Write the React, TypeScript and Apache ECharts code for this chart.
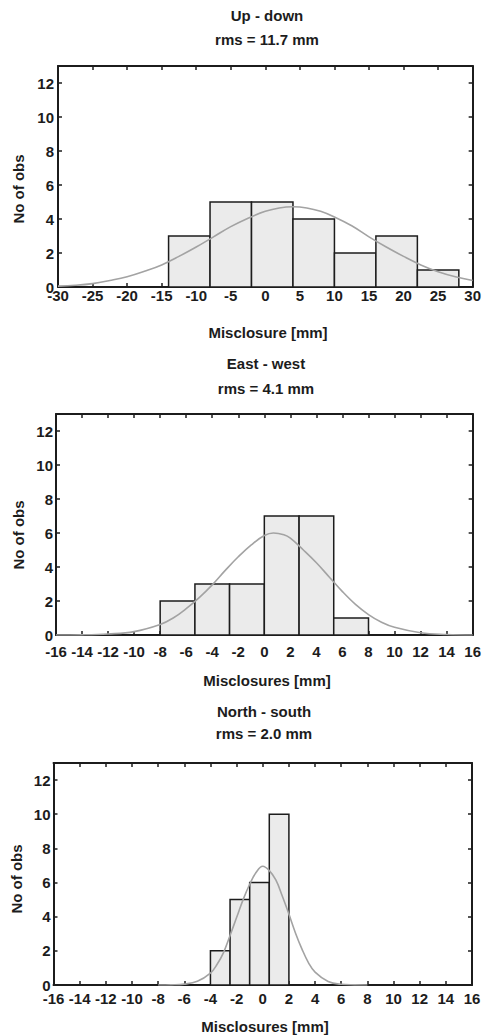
import React, { useEffect, useRef } from "react";
import * as echarts from "echarts";

// ---- Data ----
const titles = ["Up - down", "East - west", "North - south"];
const rmsLabels = ["rms = 11.7 mm", "rms = 4.1 mm", "rms = 2.0 mm"];
const xNames = ["Misclosure [mm]", "Misclosures [mm]", "Misclosures [mm]"];
const yName = "No of obs";

// Up - down histogram
const udEdges = [-14, -8, -2, 4, 10, 16, 22, 28];
const udCounts = [3, 5, 5, 4, 2, 3, 1];
const udCurveX = [-30, -27.5, -25, -22.5, -20, -17.5, -15, -12.5, -10, -7.5, -5, -2.5, 0, 2, 4, 6, 8, 10, 12.5, 15, 17.5, 20, 22.5, 25, 27.5, 30];
const udCurveY = [0.05, 0.1, 0.2, 0.38, 0.6, 0.92, 1.3, 1.8, 2.35, 2.95, 3.55, 4.05, 4.45, 4.65, 4.72, 4.65, 4.45, 4.12, 3.6, 2.95, 2.35, 1.8, 1.3, 0.9, 0.6, 0.38];

// East - west histogram
const ewEdges = [-8, -5.33, -2.67, 0, 2.67, 5.33, 8];
const ewCounts = [2, 3, 3, 7, 7, 1];
const ewCurveX = [-16, -14, -12, -10, -8, -7, -6, -5, -4, -3, -2, -1, 0, 0.7, 1.5, 2, 3, 4, 5, 6, 7, 8, 9, 10, 12, 14, 16];
const ewCurveY = [0, 0.01, 0.06, 0.2, 0.62, 1.0, 1.55, 2.2, 2.95, 3.8, 4.6, 5.3, 5.85, 6.0, 5.9, 5.7, 5.0, 4.25, 3.4, 2.55, 1.8, 1.2, 0.75, 0.45, 0.13, 0.03, 0];

// North - south histogram
const nsEdges = [-4, -2.5, -1, 0.5, 2];
const nsCounts = [2, 5, 6, 10];
const nsCurveX = [-8, -7, -6, -5, -4, -3.5, -3, -2.5, -2, -1.5, -1, -0.5, 0, 0.5, 1, 1.5, 2, 2.5, 3, 3.5, 4, 5, 6, 7, 8];
const nsCurveY = [0, 0.01, 0.05, 0.22, 0.7, 1.2, 1.9, 2.9, 3.95, 5.0, 5.9, 6.6, 6.95, 6.7, 6.15, 5.2, 4.15, 3.05, 2.1, 1.3, 0.75, 0.2, 0.04, 0.01, 0];

const xMins = [-30, -16, -16];
const xMaxs = [30, 16, 16];
const xIntervals = [5, 2, 2];
const yMax = 13;
const yInterval = 2;

const FONT = '"Liberation Sans", Arial, sans-serif';
const INK = "#1c1c1c";

export default function App() {
  const ref = useRef<HTMLDivElement>(null);

  useEffect(() => {
    if (!ref.current) return;
    const chart = echarts.init(ref.current, undefined, { renderer: "svg" });

    const grids = [
      { left: 58, top: 66, width: 419, height: 221 },
      { left: 56, top: 414, width: 418, height: 221 },
      { left: 53.5, top: 763, width: 418.5, height: 222 },
    ];
    const xLabelMargins = [1, 9, 6];
    const yLabelMargins = [4, 3, 3];

    const hists = [
      { edges: udEdges, counts: udCounts, cx: udCurveX, cy: udCurveY },
      { edges: ewEdges, counts: ewCounts, cx: ewCurveX, cy: ewCurveY },
      { edges: nsEdges, counts: nsCounts, cx: nsCurveX, cy: nsCurveY },
    ];

    const xAxis: any[] = [];
    const yAxis: any[] = [];
    const series: any[] = [];

    grids.forEach((_, i) => {
      const common = {
        type: "value",
        gridIndex: i,
        min: xMins[i],
        max: xMaxs[i],
        interval: xIntervals[i],
        splitLine: { show: false },
        axisLine: { show: true, onZero: false, lineStyle: { color: INK, width: 2 } },
        axisTick: { show: true, inside: true, length: 4, lineStyle: { color: INK, width: 1.5 } },
      };
      xAxis.push({
        ...common,
        position: "bottom",
        axisLabel: {
          show: true,
          margin: xLabelMargins[i],
          color: INK,
          fontFamily: FONT,
          fontWeight: "bold",
          fontSize: 15,
        },
      });
      xAxis.push({ ...common, position: "top", axisLabel: { show: false } });

      const ycommon = {
        type: "value",
        gridIndex: i,
        min: 0,
        max: yMax,
        interval: yInterval,
        splitLine: { show: false },
        axisLine: { show: true, onZero: false, lineStyle: { color: INK, width: 2 } },
        axisTick: { show: true, inside: true, length: 4, lineStyle: { color: INK, width: 1.5 } },
      };
      yAxis.push({
        ...ycommon,
        position: "left",
        axisLabel: {
          show: true,
          margin: yLabelMargins[i],
          color: INK,
          fontFamily: FONT,
          fontWeight: "bold",
          fontSize: 15,
          lineHeight: 13,
          showMaxLabel: false,
        },
      });
      yAxis.push({ ...ycommon, position: "right", axisLabel: { show: false } });

      const h = hists[i];
      const barData = h.counts.map((c, k) => [h.edges[k], h.edges[k + 1], c]);
      series.push({
        type: "custom",
        xAxisIndex: 2 * i,
        yAxisIndex: 2 * i,
        z: 2,
        encode: { x: [0, 1], y: 2 },
        data: barData,
        renderItem: (params: any, api: any) => {
          const p0 = api.coord([api.value(0), api.value(2)]);
          const p1 = api.coord([api.value(1), 0]);
          return {
            type: "rect",
            shape: { x: p0[0], y: p0[1], width: p1[0] - p0[0], height: p1[1] - p0[1] },
            style: { fill: "#ebebeb", stroke: INK, lineWidth: 1.5 },
          };
        },
      });
      series.push({
        type: "line",
        xAxisIndex: 2 * i,
        yAxisIndex: 2 * i,
        z: 3,
        smooth: 0.4,
        showSymbol: false,
        symbol: "none",
        lineStyle: { color: "#a3a3a3", width: 1.6 },
        data: h.cx.map((x, k) => [x, h.cy[k]]),
      });
    });

    const textStyle = (t: string) => ({
      text: t,
      font: `bold 15px ${FONT}`,
      fill: INK,
      textAlign: "center",
      textVerticalAlign: "middle",
    });

    const titlePos = [
      [267, 15, 39],
      [266, 363, 388],
      [264, 711, 733],
    ];
    const xNamePos = [
      [268, 332],
      [267, 680],
      [265, 1026],
    ];
    const yNamePos = [
      [18, 189],
      [18, 535],
      [16, 879],
    ];

    const graphic: any[] = [];
    for (let i = 0; i < 3; i++) {
      graphic.push({ type: "text", x: titlePos[i][0], y: titlePos[i][1], style: textStyle(titles[i]) });
      graphic.push({ type: "text", x: titlePos[i][0], y: titlePos[i][2], style: textStyle(rmsLabels[i]) });
      graphic.push({ type: "text", x: xNamePos[i][0], y: xNamePos[i][1], style: textStyle(xNames[i]) });
      graphic.push({
        type: "text",
        x: yNamePos[i][0],
        y: yNamePos[i][1],
        rotation: Math.PI / 2,
        style: textStyle(yName),
      });
    }

    chart.setOption({
      animation: false,
      backgroundColor: "#ffffff",
      grid: grids.map((g) => ({ ...g, show: false, containLabel: false })),
      xAxis,
      yAxis,
      series,
      graphic,
    });

    return () => chart.dispose();
  }, []);

  return (
    <div
      ref={ref}
      style={{ position: "fixed", left: 0, top: 0, width: 484, height: 1035, background: "#fff" }}
    />
  );
}
